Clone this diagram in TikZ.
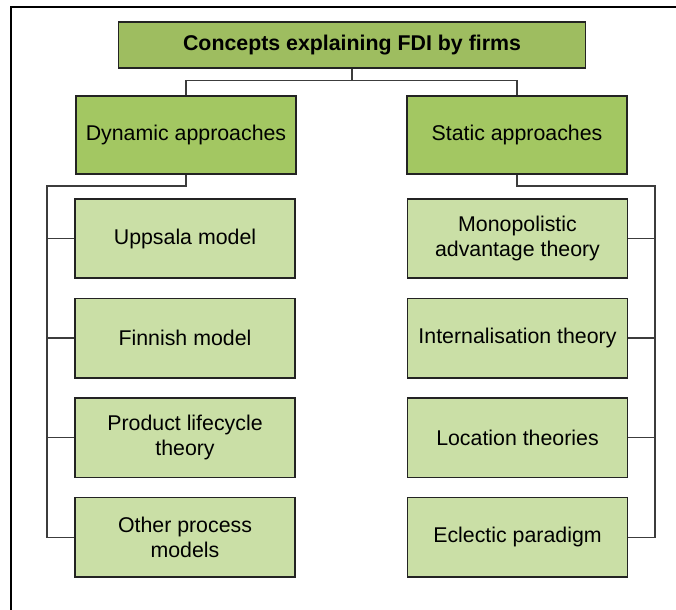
\documentclass[tikz,border=0pt]{standalone}
\usepackage{fontspec}
\setmainfont{Liberation Sans}
\usepackage{xcolor}
\usepackage{tikz}
\usetikzlibrary{positioning}

\definecolor{topgreen}{RGB}{158,189,96}
\definecolor{midgreen}{RGB}{163,199,98}
\definecolor{leafgreen}{RGB}{202,223,166}
\definecolor{boxline}{RGB}{35,35,35}
\definecolor{wire}{RGB}{60,60,60}

\begin{document}
\begin{tikzpicture}[
  x=0.75pt, y=-0.75pt,
  font=\fontsize{16}{18.75}\selectfont,
  node distance=14pt,
  base/.style={rectangle,draw=boxline,line width=1.2pt,align=center,inner sep=2pt},
  head/.style={base,fill=topgreen,minimum width=350pt,minimum height=34.5pt,font=\fontsize{16}{19}\selectfont\bfseries},
  group/.style={base,fill=midgreen,minimum width=165pt,minimum height=58.5pt},
  leaf/.style={base,fill=leafgreen,minimum width=165pt,minimum height=59.5pt},
  ln/.style={draw=wire,line width=1pt}
]
\useasboundingbox (0,0) rectangle (676,610);
\draw[line width=0.8pt] (676,7) -- (11,7) -- (11,610);

\node[head] (top) at (352,45) {Concepts explaining FDI by firms};
\node[group] (dyn) at (186,135) {Dynamic approaches};
\node[group] (stat) at (517,135) {Static approaches};

% dynamic branch
\node[leaf] (upp) at (185,238.5) {Uppsala model};
\node[leaf,below=of upp] (fin) {Finnish model};
\node[leaf,below=of fin] (plc) {Product lifecycle\\ theory};
\node[leaf,below=of plc] (oth) {Other process\\ models};

% static branch
\node[leaf] (mon) at (517.5,238.5) {Monopolistic\\ advantage theory};
\node[leaf,below=of mon] (int) {Internalisation theory};
\node[leaf,below=of int] (loc) {Location theories};
\node[leaf,below=of loc] (ecl) {Eclectic paradigm};

\coordinate (lspine) at (47,186);
\coordinate (rspine) at (655,186);

\draw[ln] (top.south) -- ++(0,12) -| (dyn.north);
\draw[ln] (top.south) -- ++(0,12) -| (stat.north);

\draw[ln] (dyn.south) |- (lspine) |- (oth.west);
\foreach \n in {upp,fin,plc}
  \draw[ln] (lspine |- \n.west) -- (\n.west);

\draw[ln] (stat.south) |- (rspine) |- (ecl.east);
\foreach \n in {mon,int,loc}
  \draw[ln] (rspine |- \n.east) -- (\n.east);
\end{tikzpicture}
\end{document}
